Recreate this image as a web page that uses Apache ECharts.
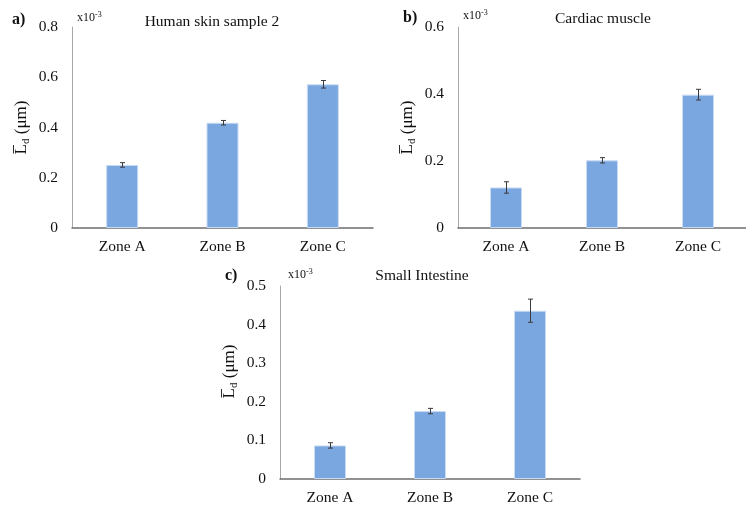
<!DOCTYPE html>
<html><head><meta charset="utf-8">
<script src="https://cdn.jsdelivr.net/npm/echarts@6/dist/echarts.min.js"></script>
<style>html,body{margin:0;padding:0;background:#fff}#c{width:746px;height:506px}</style>
</head><body><div id="c"></div>
<script>
const categories = ['Zone A', 'Zone B', 'Zone C'];
const skinValues = [0.251, 0.419, 0.572];
const skinErrors = [0.009, 0.009, 0.015];
const cardiacValues = [0.121, 0.202, 0.398];
const cardiacErrors = [0.017, 0.008, 0.016];
const intestineValues = [0.087, 0.176, 0.436];
const intestineErrors = [0.007, 0.007, 0.030];
const panelTitles = ['Human skin sample 2', 'Cardiac muscle', 'Small Intestine'];
const panelLetters = ['a)', 'b)', 'c)'];
const yMax = [0.8, 0.6, 0.5];
const yInterval = [0.2, 0.2, 0.1];

const FONT = '"Liberation Serif", "DejaVu Serif", serif';
const BAR = '#7BA7E0';
const TXT = '#111111';

const grids = [
  {left: 72, top: 27, width: 301, height: 201},
  {left: 458, top: 27, width: 300, height: 201},
  {left: 280, top: 286, width: 300, height: 196}
];
const valuesList = [skinValues, cardiacValues, intestineValues];
const errorsList = [skinErrors, cardiacErrors, intestineErrors];
const namePad = [[0, 0, 0, 0], [0, 0, 0, 0], [0, 0, 0, 22]];

const xAxes = grids.map((g, i) => ({
  type: 'category', gridIndex: i, data: categories,
  axisLine: {lineStyle: {color: '#6e6e6e', width: 1.5}},
  axisTick: {show: false},
  axisLabel: {color: TXT, fontFamily: FONT, fontSize: 15.5, margin: 11}
}));
const yAxes = grids.map((g, i) => ({
  type: 'value', gridIndex: i, min: 0, max: yMax[i], interval: yInterval[i],
  splitLine: {show: false},
  axisTick: {show: false},
  axisLine: {show: true, lineStyle: {color: '#a8a8a8', width: 1}},
  axisLabel: {color: TXT, fontFamily: FONT, fontSize: 15.5, margin: 14},
  name: '{a|L\u0305}{b|d}{a| (\u03bcm)}',
  nameLocation: 'middle', nameRotate: 90, nameGap: 40,
  nameTextStyle: {
    padding: namePad[i],
    rich: {
      a: {fontFamily: FONT, fontSize: 17, color: TXT},
      b: {fontFamily: FONT, fontSize: 11, color: TXT, padding: [9, 0, 0, 0]}
    }
  }
}));

const series = [];
valuesList.forEach((vals, i) => {
  series.push({
    type: 'bar', xAxisIndex: i, yAxisIndex: i, data: vals, barWidth: 32,
    itemStyle: {color: BAR, borderColor: '#c9dbf3', borderWidth: 1}
  });
  const errs = errorsList[i];
  series.push({
    type: 'custom', xAxisIndex: i, yAxisIndex: i, z: 10,
    data: vals.map((v, k) => [k, v - errs[k], v + errs[k]]),
    renderItem: function (params, api) {
      const lo = api.coord([api.value(0), api.value(1)]);
      const hi = api.coord([api.value(0), api.value(2)]);
      const x = Math.round(lo[0]) + 0.5;
      const w = 2.5;
      const st = {stroke: '#3a3a3a', lineWidth: 1};
      return {type: 'group', children: [
        {type: 'line', shape: {x1: x, y1: lo[1], x2: x, y2: hi[1]}, style: st},
        {type: 'line', shape: {x1: x - w, y1: lo[1], x2: x + w, y2: lo[1]}, style: st},
        {type: 'line', shape: {x1: x - w, y1: hi[1], x2: x + w, y2: hi[1]}, style: st}
      ]};
    }
  });
});

const titlePos = [[212, 22], [603, 19], [422, 276]];
const letterPos = [[12, 20], [403, 18], [225, 276]];
const expPos = [[77, 18], [463, 16], [288, 275]];
const graphics = [];
for (let i = 0; i < 3; i++) {
  graphics.push({type: 'text', x: titlePos[i][0], y: titlePos[i][1],
    style: {text: panelTitles[i], fontFamily: FONT, fontSize: 15.5, fill: TXT, textAlign: 'center', textVerticalAlign: 'middle'}});
  graphics.push({type: 'text', x: letterPos[i][0], y: letterPos[i][1],
    style: {text: panelLetters[i], fontFamily: FONT, fontSize: 16, fontWeight: 'bold', fill: TXT, textAlign: 'left', textVerticalAlign: 'middle'}});
  graphics.push({type: 'text', x: expPos[i][0], y: expPos[i][1],
    style: {text: '{m|x10}{s|-3}', textAlign: 'left', textVerticalAlign: 'middle',
      rich: {m: {fontFamily: FONT, fontSize: 12, fill: TXT},
             s: {fontFamily: FONT, fontSize: 8, fill: TXT, padding: [0, 0, 6, 0]}}}});
}

const chart = echarts.init(document.getElementById('c'));
chart.setOption({
  animation: false,
  grid: grids,
  xAxis: xAxes,
  yAxis: yAxes,
  series: series,
  graphic: graphics
});
</script></body></html>
